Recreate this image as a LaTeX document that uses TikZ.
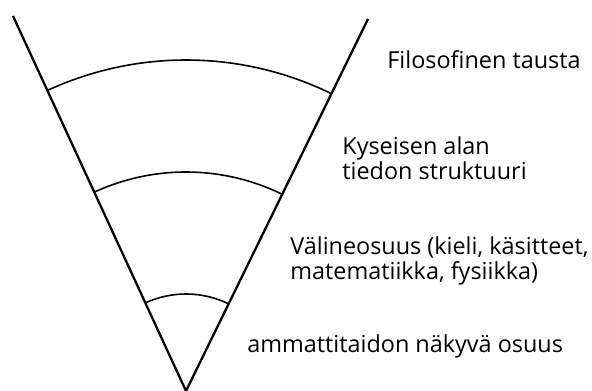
\documentclass[tikz,border=0pt]{standalone}
\usepackage{fontspec}
\setmainfont{Open Sans}
\begin{document}
\begin{tikzpicture}[x=1pt, y=1pt, thick,
  side/.style={line width=2.3pt},
  layer/.style={line width=1.6pt},
  label/.style={anchor=base west, inner sep=0pt, align=left, font=\fontsize{23.4}{25.8}\selectfont}]
\useasboundingbox (0,0) rectangle (592,391);
\coordinate (apex) at (186,0);
\coordinate (lt) at (13,375);
\coordinate (rt) at (368,372);
\draw[side] (lt) -- (apex) -- (rt);
\draw[layer] (apex) ++(63.9:331) arc[start angle=63.9, end angle=114.8, radius=331];
\draw[layer] (apex) ++(63.9:219) arc[start angle=63.9, end angle=114.8, radius=219];
\draw[layer] (apex) ++(63.9:97) arc[start angle=63.9, end angle=114.8, radius=97];
\node[label] (filo) at (387,322) {Filosofinen tausta};
\node[label] (rakenne) at (342,211) {Kyseisen alan\\tiedon struktuuri};
\node[label] (valine) at (290,111) {Välineosuus (kieli, käsitteet,\\matematiikka, fysiikka)};
\node[label] (taito) at (247,38) {ammattitaidon näkyvä osuus};
\end{tikzpicture}
\end{document}
